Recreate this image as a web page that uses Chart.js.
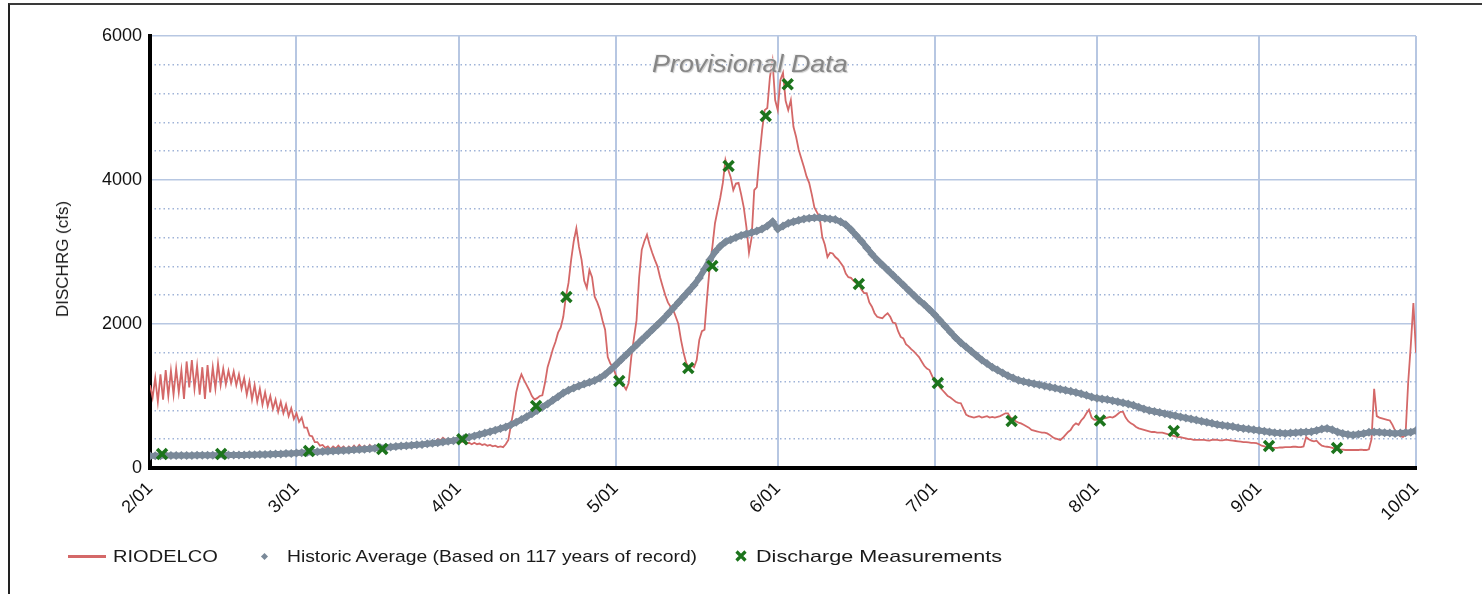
<!DOCTYPE html>
<html>
<head>
<meta charset="utf-8">
<script src="https://cdn.jsdelivr.net/npm/chart.js@4.4.0/dist/chart.umd.min.js"></script>
<style>
  html, body { margin: 0; padding: 0; background: #fff; }
  #wrap { position: relative; width: 1482px; height: 594px; overflow: hidden;
          font-family: "Liberation Sans", Arial, sans-serif; color: #1a1a1a; }
  #frame { position: absolute; left: 8px; top: 3px; width: 1500px; height: 620px;
           border-top: 2px solid #3a3a3a; border-left: 2px solid #222; }
  canvas { position: absolute; left: 0; top: 0; }
  #ytitle { position: absolute; left: 63px; top: 259px; font-size: 17px; white-space: nowrap;
            transform: translate(-50%, -50%) rotate(-90deg); }
  #mark { position: absolute; left: 652px; top: 50px; font-size: 24px; font-style: italic;
          color: #868686; white-space: nowrap; transform: scaleX(1.12); transform-origin: left center;
          text-shadow: 1px 1px 1px #c9c9c9, -1px -1px 0 #f2f2f2; }
  .lg { position: absolute; top: 547px; font-size: 17px; white-space: nowrap; transform-origin: left center; }
  #lgRed { position: absolute; left: 68px; top: 555px; width: 38px; height: 3px; background: #d46868; }
  #lgGray { position: absolute; left: 262px; top: 554px; width: 5px; height: 5px; background: #7a8999;
            transform: rotate(45deg); }
  #lgGreen { position: absolute; left: 735px; top: 550px; }
</style>
</head>
<body>
<div id="wrap">
  <div id="frame"></div>
  <canvas id="chart" width="1482" height="594"></canvas>
  <div id="ytitle">DISCHRG (cfs)</div>
  <div id="mark">Provisional Data</div>
  <div id="lgRed"></div><div class="lg" style="left:113px; transform:scaleX(1.18)">RIODELCO</div>
  <div id="lgGray"></div><div class="lg" style="left:287px; transform:scaleX(1.135)">Historic Average (Based on 117 years of record)</div>
  <svg id="lgGreen" width="12" height="12"><path d="M1.5 1.5 L10.5 10.5 M10.5 1.5 L1.5 10.5" stroke="#1c741c" stroke-width="3.2"/></svg>
  <div class="lg" style="left:756px; transform:scaleX(1.27)">Discharge Measurements</div>
</div>
<script>
// x axis: days since 2/01
const monthDays = [0, 28, 59, 89, 120, 150, 181, 212, 242];
const monthLabels = ["2/01", "3/01", "4/01", "5/01", "6/01", "7/01", "8/01", "9/01", "10/01"];
const yMajorTicks = [0, 2000, 4000, 6000];
const yMinorTicks = [0, 400, 800, 1200, 1600, 2000, 2400, 2800, 3200, 3600, 4000, 4400, 4800, 5200, 5600, 6000];

// RIODELCO, two readings per day (cfs)
const rioFeb = [1150,980, 1250,920, 1300,950, 1360,1000, 1350,1020, 1380,1050, 1360,960, 1480,1120, 1500,1100, 1420,1020,
  1400,960, 1430,1050, 1400,1100, 1450,1150, 1380,1160, 1350,1180, 1340,1150, 1300,1100, 1250,1020, 1200,950,
  1150,920, 1100,880, 1050,860, 1000,820, 950,780, 920,760, 880,720, 830,680];
const rioMar = [760,640, 700,560, 560,450, 440,360, 360,310, 320,280, 300,260, 300,270, 310,270, 300,260,
  300,270, 310,270, 320,280, 310,270, 320,280, 310,280, 300,280, 300,290, 310,290, 320,300,
  320,310, 330,310, 330,320, 340,330, 350,330, 360,340, 380,360, 400,380, 420,390, 400,380,
  390,370];
const rioApr = [390,370, 360,340, 350,330, 350,330, 340,320, 330,310, 320,300, 310,290, 300,290, 330,390,
  600,800, 1050,1200, 1300,1220, 1150,1080, 1000,950, 970,1000, 1010,1180, 1400,1520, 1650,1750, 1880,1950,
  2100,2380, 2570,2890, 3150,3330, 3070,2890, 2600,2500, 2750,2650, 2380,2300, 2200,2050, 1920,1540, 1450,1400];
const rioMay = [1300,1220, 1200,1150, 1090,1180, 1540,1800, 2050,2650, 3030,3150, 3240,3100, 2990,2890, 2800,2650, 2520,2400,
  2300,2240, 2200,2100, 2000,1780, 1600,1460, 1400,1430, 1400,1500, 1780,1900, 1920,2380, 2800,3070, 3400,3580,
  3750,3960, 4280,4150, 4040,3860, 3950,3960, 3800,3620, 3350,2990, 3200,3860, 3900,4320, 4690,4970, 5000,5430,
  5650,5110];
const rioJun = [4970,5390, 5490,5100, 4970,5110, 4740,4600, 4420,4300, 4180,4050, 3960,3800, 3620,3550, 3490,3210, 3100,2930,
  2990,2980, 2930,2900, 2850,2800, 2700,2650, 2640,2600, 2570,2560, 2480,2430, 2430,2300, 2240,2150, 2100,2090,
  2080,2120, 2150,2100, 2020,2010, 1900,1820, 1800,1720, 1690,1650, 1620,1580, 1540,1480, 1420,1380, 1360,1280];
const rioJul = [1200,1180, 1120,1080, 1040,1000, 980,950, 920,905, 900,820, 740,720, 710,700, 710,720, 700,710,
  720,700, 710,700, 710,720, 740,760, 760,700, 680,650, 630,620, 600,580, 560,530, 520,510,
  500,490, 490,480, 460,430, 410,400, 390,420, 460,500, 530,590, 620,600, 660,700, 760,810,
  700,670];
const rioAug = [670,680, 700,690, 700,710, 700,720, 750,780, 780,700, 650,620, 600,570, 550,540, 530,520,
  510,500, 500,490, 490,490, 480,470, 460,450, 440,430, 430,420, 410,400, 400,390, 390,390,
  390,390, 385,380, 390,395, 390,385, 385,390, 390,385, 380,375, 370,365, 360,360, 355,350,
  350,345];
const rioSep = [330,310, 300,290, 285,280, 280,280, 285,285, 290,290, 290,295, 295,290, 290,300, 430,400,
  380,370, 380,340, 310,300, 295,290, 280,270, 260,255, 255,250, 250,250, 250,250, 250,255,
  250,250, 260,400, 1100,720, 700,690, 680,670, 660,600, 520,480, 440,430, 460,1180, 1700,2290,
  1600];

// historic daily average (cfs), 2/01 .. 10/01
const histAvg = [
  168,170,170,172,172,173,174,175,175,176, 176,177,178,178,179,180,180,181,182,183, 184,186,188,190,193,196,200,203,
  208,212,216,220,224,228,232,236,240,244, 248,252,256,262,268,274,280,286,292,298, 304,310,316,322,328,336,344,352,360,370, 380,
  395,410,428,446,465,485,505,525,548,570, 600,635,672,712,755,800,845,890,940,990, 1040,1080,1110,1140,1165,1190,1215,1250,1300,1360,
  1430,1500,1570,1640,1710,1780,1850,1920,1990,2060, 2140,2220,2300,2380,2460,2540,2640,2760,2890,3000, 3080,3140,3170,3200,3230,3250,3270,3290,3320,3360, 3420,
  3320,3360,3400,3420,3440,3460,3470,3475,3475,3470, 3460,3450,3420,3380,3310,3230,3150,3060,2970,2890, 2820,2750,2680,2610,2540,2470,2400,2330,2270,2200,
  2130,2050,1970,1890,1810,1740,1680,1620,1560,1500, 1450,1400,1360,1320,1280,1250,1220,1200,1185,1170, 1155,1140,1125,1110,1095,1080,1065,1050,1030,1010, 985,
  970,960,950,935,920,905,890,870,845,820, 800,785,770,755,740,725,710,695,680,665, 650,635,620,605,595,585,575,560,550,540, 530,
  520,510,500,490,485,480,485,490,495,500, 505,520,540,550,530,500,480,465,460,470, 480,495,500,495,490,485,480,485,490,495, 520
];

// discharge measurements
const measDays = [2.3, 13.6, 30.4, 44.4, 59.7, 73.8, 79.6, 89.7, 102.9, 107.5, 110.6, 117.7, 121.9, 135.5, 150.6, 164.7, 181.6, 195.7, 213.9, 226.9];
const measCfs = [194, 194, 236, 264, 400, 861, 2375, 1208, 1389, 2806, 4194, 4889, 5330, 2556, 1181, 653, 660, 514, 306, 278];

const rio = [].concat(rioFeb, rioMar, rioApr, rioMay, rioJun, rioJul, rioAug, rioSep);
const rioPts = rio.map((v, i) => ({ x: i * 0.5, y: v }));
const histPts = histAvg.map((v, i) => ({ x: i, y: v }));
const measPts = measDays.map((d, i) => ({ x: d, y: measCfs[i] }));

const gridBlue = "#b7c7e2";
const font = { family: "'Liberation Sans', Arial, sans-serif", size: 18 };

new Chart(document.getElementById("chart"), {
  type: "line",
  data: {
    datasets: [
      {
        label: "Discharge Measurements",
        data: measPts,
        showLine: false,
        pointStyle: "crossRot",
        pointRadius: 7,
        pointBorderWidth: 3.6,
        pointBorderColor: "#1c741c",
        order: 1
      },
      {
        label: "Historic Average (Based on 117 years of record)",
        data: histPts,
        borderColor: "#7a8999",
        borderWidth: 6,
        pointStyle: "rectRot",
        pointRadius: 4.5,
        pointBackgroundColor: "#7a8999",
        pointBorderWidth: 0,
        order: 2
      },
      {
        label: "RIODELCO",
        data: rioPts,
        borderColor: "#d46868",
        borderWidth: 1.8,
        pointRadius: 0,
        tension: 0,
        order: 3
      }
    ]
  },
  options: {
    responsive: false,
    animation: false,
    devicePixelRatio: 1,
    layout: { padding: { top: 36, right: 66, bottom: 0, left: 0 } },
    plugins: { legend: { display: false }, tooltip: { enabled: false } },
    scales: {
      x: {
        type: "linear",
        min: 0,
        max: 242,
        afterBuildTicks: s => { s.ticks = monthDays.map(v => ({ value: v })); },
        afterFit: s => { s.height = 126; },
        ticks: {
          autoSkip: false,
          minRotation: 45,
          maxRotation: 45,
          padding: 10,
          color: "#111",
          font,
          callback: (v, i) => monthLabels[i]
        },
        grid: { color: gridBlue, lineWidth: 2, drawTicks: false },
        border: { color: "#000", width: 4 }
      },
      y: {
        position: "left",
        min: 0,
        max: 6000,
        afterBuildTicks: s => { s.ticks = yMajorTicks.map(v => ({ value: v })); },
        afterFit: s => { s.width = 150; },
        ticks: { color: "#111", font, padding: 8, callback: v => String(v) },
        grid: { color: gridBlue, lineWidth: 1.5, drawTicks: false },
        border: { color: "#000", width: 4 }
      },
      yMinor: {
        position: "left",
        min: 0,
        max: 6000,
        afterBuildTicks: s => { s.ticks = yMinorTicks.map(v => ({ value: v })); },
        afterFit: s => { s.width = 0; },
        ticks: { display: false },
        grid: {
          color: c => (c.tick && c.tick.value % 2000 === 0) ? "rgba(0,0,0,0)" : "#9fb3d8",
          lineWidth: 1.5,
          drawTicks: false
        },
        border: { display: false, dash: [1.5, 3] }
      }
    }
  }
});
</script>
</body>
</html>
